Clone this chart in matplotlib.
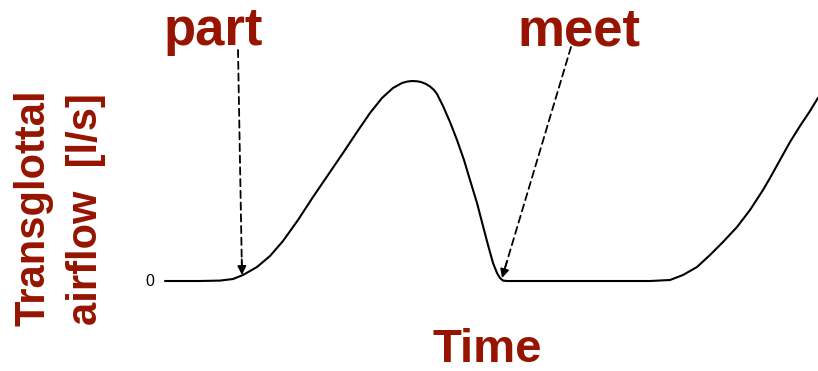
import numpy as np
import matplotlib
matplotlib.use('Agg')
import matplotlib.pyplot as plt

# glottal flow pulse (time in ms, flow in l/s)
time = [0.00, 0.70, 1.10, 1.36, 1.56, 1.84, 2.10, 2.36, 2.66, 2.96, 3.26,
        3.56, 3.84, 4.10, 4.34, 4.56, 4.74, 4.84, 4.94, 5.04, 5.12, 5.22, 5.30,
        5.38, 5.44, 5.56, 5.70, 5.84, 5.98, 6.10, 6.24, 6.36, 6.46, 6.56, 6.64,
        6.70, 6.76, 6.84, 8.70, 9.70, 10.10, 10.36, 10.64, 10.90, 11.16, 11.44,
        11.70, 11.96, 12.10, 12.30, 12.50, 12.70, 12.90, 13.06]
flow = [0.0, 0.0, 0.001, 0.005, 0.015, 0.035, 0.0625, 0.1, 0.1525, 0.21,
        0.265, 0.32, 0.3725, 0.42, 0.4575, 0.4825, 0.495, 0.4985, 0.5, 0.4993,
        0.4975, 0.4925, 0.4863, 0.4775, 0.4675, 0.4375, 0.3975, 0.3525, 0.3025,
        0.2525, 0.195, 0.1375, 0.09, 0.045, 0.02, 0.0075, 0.001, 0.0, 0.0, 0.0,
        0.0025, 0.015, 0.035, 0.065, 0.0975, 0.135, 0.1775, 0.2275, 0.2575,
        0.3025, 0.3475, 0.3875, 0.425, 0.458]

# the two events marked on the curve
labels = ['part', 'meet']
event_t = [1.54, 6.74]
event_f = [0.015, 0.0075]

red = '#961400'
plt.rcParams['font.family'] = ['Liberation Sans', 'DejaVu Sans']

fig = plt.figure(figsize=(8.18, 3.71), dpi=100)
ax = fig.add_axes([165/818, 90/371, 653/818, 200/371])
ax.plot(time, flow, color='black', lw=1.5, clip_on=False,
        solid_capstyle='round', solid_joinstyle='round')
ax.set_xlim(0, 13.06)
ax.set_ylim(0, 0.5)
ax.axis('off')

ax.text(-0.3, 0, '0', fontsize=11.5, ha='center', va='center')

# text positions (figure pixels)
text_pos = [(213, 326), (579, 326)]
arrow_start = [(238, 321), (571, 324)]
for lab, t, f, tp, st in zip(labels, event_t, event_f, text_pos, arrow_start):
    fig.text(tp[0] / 818, tp[1] / 371, lab, color=red, fontsize=38,
             fontweight='bold', ha='center', va='baseline')
    ax.annotate('', xy=(t, f), xycoords='data', xytext=st,
                textcoords='figure pixels',
                arrowprops=dict(arrowstyle='-', ls=(0, (4, 2.5)), lw=1.3,
                                color='black', shrinkA=0, shrinkB=3))
    # solid arrow head
    ax.annotate('', xy=(t, f), xycoords='data',
                xytext=(st[0] + (t / 13.06 * 653 + 165 - st[0]) * 0.93,
                        st[1] + (371 - 281 + f / 0.5 * 200 - st[1]) * 0.93),
                textcoords='figure pixels',
                arrowprops=dict(arrowstyle='-|>', lw=1.2, color='black',
                                mutation_scale=13, shrinkA=0, shrinkB=0))

fig.text(487 / 818, (371 - 362) / 371, 'Time', color=red, fontsize=34,
         fontweight='bold', ha='center', va='baseline')
fig.text(45 / 818, (371 - 208) / 371, 'Transglottal', color=red, fontsize=30,
         fontweight='bold', rotation=90, rotation_mode='anchor',
         ha='center', va='baseline')
fig.text(97 / 818, (371 - 209) / 371, 'airflow  [l/s]', color=red, fontsize=30,
         fontweight='bold', rotation=90, rotation_mode='anchor',
         ha='center', va='baseline')

fig.savefig('out.png', dpi=100)
